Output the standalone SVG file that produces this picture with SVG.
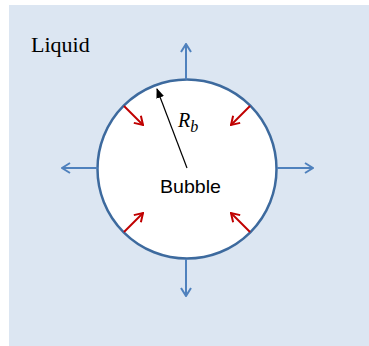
<svg xmlns="http://www.w3.org/2000/svg" width="369" height="346" viewBox="0 0 369 346">
<defs>
<style>
.blue{stroke:#4f81bd;stroke-width:2;fill:none}
.red{stroke:#c00000;stroke-width:2;fill:none}
.blk{stroke:#000;stroke-width:1.2;fill:none}
</style>
<marker id="ab" viewBox="0 0 12 12" refX="11" refY="6" markerWidth="12" markerHeight="12" markerUnits="userSpaceOnUse" orient="auto"><path d="M3,1 L11,6 L3,11" fill="none" stroke="#4f81bd" stroke-width="2"/></marker>
<marker id="ar" viewBox="0 0 12 12" refX="11" refY="6" markerWidth="12" markerHeight="12" markerUnits="userSpaceOnUse" orient="auto"><path d="M3,1 L11,6 L3,11" fill="none" stroke="#c00000" stroke-width="2"/></marker>
<marker id="ak" viewBox="0 0 10 10" refX="9" refY="5" markerWidth="10" markerHeight="10" markerUnits="userSpaceOnUse" orient="auto"><path d="M0,1 L10,5 L0,9 Z" fill="#000"/></marker>
</defs>
<rect x="9" y="5" width="360" height="341" fill="#dce6f2"/>
<text x="31" y="52" font-family="Liberation Serif, serif" font-size="22" fill="#000">Liquid</text>
<g id="bubble">
<circle cx="187" cy="169" r="89.5" fill="#fff" stroke="#3d6a9e" stroke-width="2.5"/>
<text x="190.5" y="193" font-family="Liberation Sans, Arial, sans-serif" font-size="19" text-anchor="middle" textLength="61" lengthAdjust="spacingAndGlyphs" fill="#000">Bubble</text>
</g>
<g id="connectors">
<line class="blue" x1="186" y1="79.5" x2="186" y2="44" marker-end="url(#ab)"/>
<line class="blue" x1="186" y1="259" x2="186" y2="296" marker-end="url(#ab)"/>
<line class="blue" x1="97.5" y1="168" x2="62" y2="168" marker-end="url(#ab)"/>
<line class="blue" x1="277" y1="168" x2="313" y2="168" marker-end="url(#ab)"/>
<line class="red" x1="124" y1="106" x2="143" y2="125" marker-end="url(#ar)"/>
<line class="red" x1="250" y1="106" x2="231" y2="125" marker-end="url(#ar)"/>
<line class="red" x1="124" y1="232" x2="143" y2="213" marker-end="url(#ar)"/>
<line class="red" x1="250" y1="232" x2="231" y2="213" marker-end="url(#ar)"/>
<line class="blk" x1="187" y1="168" x2="157" y2="89" marker-end="url(#ak)"/>
</g>
<g id="label">
<text x="178" y="127" font-family="Liberation Serif, serif" font-style="italic" font-size="20" fill="#000">R<tspan font-size="16" dy="5">b</tspan></text>
</g>
</svg>
